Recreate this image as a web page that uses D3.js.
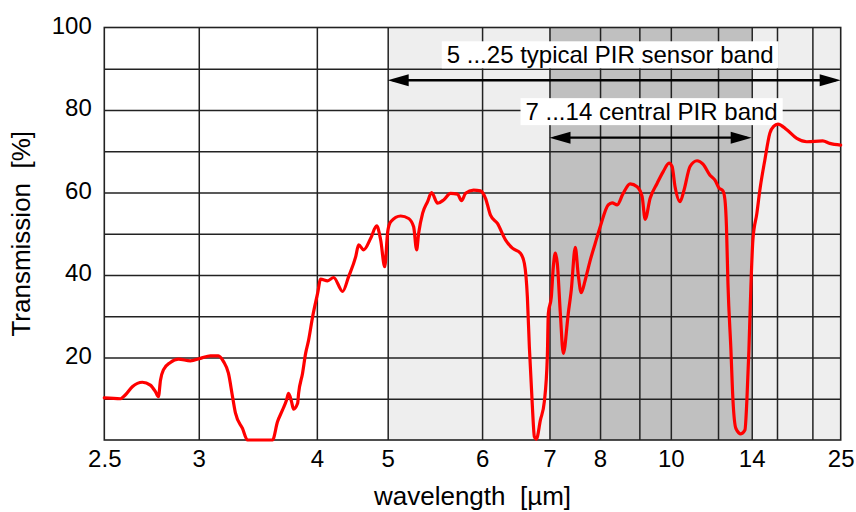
<!DOCTYPE html>
<html>
<head>
<meta charset="utf-8">
<script src="https://cdn.jsdelivr.net/npm/d3@7"></script>
<style>
  html, body { margin: 0; padding: 0; background: #fff; }
  svg { display: block; font-family: "Liberation Sans", Arial, Helvetica, sans-serif; }
</style>
</head>
<body>
<svg id="chart" width="856" height="512"></svg>
<script>
// ---------- data ----------
const wavelength = [
  2.500, 2.573, 2.596, 2.630, 2.680, 2.721, 2.748, 2.764, 2.775, 2.791,
  2.830, 2.876, 2.948, 3.011, 3.076, 3.130, 3.166, 3.201, 3.231, 3.253,
  3.306, 3.345, 3.555, 3.600, 3.647, 3.685, 3.704, 3.733, 3.753, 3.794,
  3.804, 3.845, 3.877, 3.909, 3.953, 4.009, 4.043, 4.125, 4.199, 4.314,
  4.394, 4.492, 4.535, 4.609, 4.717, 4.813, 4.879, 4.948, 5.000, 5.027,
  5.117, 5.192, 5.240, 5.269, 5.289, 5.329, 5.379, 5.420, 5.483, 5.548,
  5.624, 5.703, 5.750, 5.797, 5.893, 5.980, 6.044, 6.109, 6.202, 6.313,
  6.412, 6.531, 6.591, 6.637, 6.668, 6.716, 6.748, 6.780, 6.846, 6.912,
  6.963, 6.980, 7.032, 7.067, 7.103, 7.138, 7.193, 7.248, 7.342, 7.399,
  7.477, 7.536, 7.597, 7.679, 7.785, 7.893, 8.004, 8.189, 8.284, 8.408,
  8.559, 8.744, 8.937, 9.080, 9.168, 9.319, 9.537, 9.734, 9.938, 10.044,
  10.152, 10.337, 10.490, 10.727, 11.019, 11.282, 11.605, 11.847, 12.048, 12.257,
  12.364, 12.446, 12.527, 12.695, 12.811, 12.985, 13.291, 13.545, 13.674, 13.808,
  13.943, 14.083, 14.368, 14.588, 14.973, 15.380, 15.721, 16.077, 16.941, 18.015,
  19.238, 21.580, 22.789, 25.000
];
const transmission = [
  10.2, 10.0, 10.9, 12.9, 14.0, 13.3, 11.7, 10.5, 14.5, 17.0,
  18.8, 19.6, 19.2, 19.8, 20.4, 20.4, 19.0, 16.2, 10.5, 6.5,
  2.8, 0.0, 0.0, 4.4, 7.3, 9.7, 11.3, 9.3, 7.5, 8.9,
  11.3, 16.2, 21.0, 24.2, 29.9, 35.6, 39.0, 38.6, 39.4, 36.0,
  39.6, 44.4, 47.3, 46.1, 48.9, 51.9, 48.5, 42.0, 50.5, 52.9,
  54.3, 53.7, 51.7, 46.1, 50.1, 55.0, 57.8, 60.0, 57.4, 58.2,
  59.8, 59.6, 58.0, 59.8, 60.6, 60.4, 58.6, 54.5, 52.5, 48.5,
  46.5, 45.3, 42.8, 34.7, 22.6, 8.1, 0.8, 0.2, 4.8, 9.3,
  20.2, 30.7, 34.7, 42.0, 45.3, 42.8, 30.7, 21.0, 30.8, 36.4,
  46.7, 40.0, 35.7, 38.8, 43.6, 47.7, 51.7, 57.0, 57.5, 57.0,
  59.8, 62.1, 61.4, 59.0, 53.5, 58.6, 62.2, 65.0, 67.1, 66.3,
  61.4, 57.8, 60.6, 66.3, 67.7, 66.9, 64.2, 63.0, 61.1, 60.4,
  58.2, 51.7, 38.0, 21.8, 9.7, 2.8, 1.5, 2.4, 9.7, 21.8,
  37.2, 48.5, 55.0, 60.6, 67.9, 74.4, 76.1, 76.6, 75.2, 73.1,
  72.3, 72.5, 71.9, 71.5
];
const xTickValues = [2.5, 3, 4, 5, 6, 7, 8, 10, 14, 25];
const xGridValues = [3, 4, 5, 6, 7, 8, 9, 10, 12, 14, 16, 20];
const yTickValues = [20, 40, 60, 80, 100];
const yGridValues = [10, 20, 30, 40, 50, 60, 70, 80, 90];
const bandStart = [5, 7];
const bandEnd = [25, 14];
const bandFill = ["#eeeeee", "#c0c0c0"];
const bandLabels = ["5 ...25 typical PIR sensor band", "7 ...14 central PIR band"];
const bandArrowLevel = [87.2, 73.3];   // transmission level of each arrow
const bandLabelShift = [-4, 1];

// ---------- layout ----------
const L = 104.3, R = 840.7, T = 27.5, B = 440;
const svg = d3.select("#chart");

// x: linear in wavenumber (1/λ), with a scale change at 5 µm (2000 cm⁻¹)
const x = d3.scalePow().exponent(-1).domain([2.5, 5, 25]).range([L, 387.7, R]);
const y = d3.scaleLinear().domain([0, 100]).range([B, T]);

// bands
svg.append("g").selectAll("rect").data(bandStart).join("rect")
  .attr("x", (d, i) => x(bandStart[i]))
  .attr("y", T)
  .attr("width", (d, i) => x(bandEnd[i]) - x(bandStart[i]))
  .attr("height", B - T)
  .attr("fill", (d, i) => bandFill[i]);

// grid
const gridColor = "#222";
const gx = svg.append("g").attr("transform", `translate(0,${B})`)
  .call(d3.axisBottom(x).tickValues(xGridValues).tickSize(-(B - T)).tickFormat(""));
gx.select(".domain").remove();
gx.selectAll("line").attr("stroke", gridColor).attr("stroke-width", 1.5);

const gy = svg.append("g").attr("transform", `translate(${L},0)`)
  .call(d3.axisLeft(y).tickValues(yGridValues).tickSize(-(R - L)).tickFormat(""));
gy.select(".domain").remove();
gy.selectAll("line").attr("stroke", gridColor).attr("stroke-width", 1.4);

// frame
svg.append("rect").attr("x", L).attr("y", T).attr("width", R - L).attr("height", B - T)
  .attr("fill", "none").attr("stroke", gridColor).attr("stroke-width", 1.6);

// axes labels
const ax = svg.append("g").attr("transform", `translate(0,${B})`)
  .call(d3.axisBottom(x).tickValues(xTickValues).tickSize(0).tickPadding(10).tickFormat(d => d));
ax.select(".domain").remove();
ax.selectAll("text").attr("font-size", 24).attr("fill", "#000")
  .attr("font-family", "'Liberation Sans', Arial, sans-serif");

const ay = svg.append("g").attr("transform", `translate(${L},0)`)
  .call(d3.axisLeft(y).tickValues(yTickValues).tickSize(0).tickPadding(12.5));
ay.select(".domain").remove();
ay.selectAll("text").attr("font-size", 24).attr("fill", "#000").attr("dy", "0.24em")
  .attr("font-family", "'Liberation Sans', Arial, sans-serif");

// axis titles
svg.append("text").attr("x", (L + R) / 2).attr("y", 505).attr("text-anchor", "middle")
  .attr("font-size", 26).attr("fill", "#000").text("wavelength\u00a0\u00a0[µm]");
svg.append("text").attr("transform", `translate(30,${(T + B) / 2}) rotate(-90)`)
  .attr("text-anchor", "middle").attr("font-size", 26).attr("fill", "#000")
  .text("Transmission\u00a0\u00a0[%]");

// arrows + labels
const headLen = 21, headHalf = 6;
bandStart.forEach((s, i) => {
  const x0 = x(s), x1 = x(bandEnd[i]), ya = y(bandArrowLevel[i]);
  const g = svg.append("g");
  g.append("line").attr("x1", x0 + 5).attr("x2", x1 - 5).attr("y1", ya).attr("y2", ya)
    .attr("stroke", "#000").attr("stroke-width", 2.4);
  g.append("path").attr("d", `M${x0},${ya} L${x0 + headLen},${ya - headHalf} L${x0 + headLen},${ya + headHalf} Z`)
    .attr("fill", "#000");
  g.append("path").attr("d", `M${x1},${ya} L${x1 - headLen},${ya - headHalf} L${x1 - headLen},${ya + headHalf} Z`)
    .attr("fill", "#000");
  const tx = (x0 + x1) / 2 + bandLabelShift[i];
  const ty = ya - 16.5 - (i === 0 ? 0.5 : 1);
  const box = g.append("rect").attr("fill", "#fff");
  const t = g.append("text").attr("x", tx).attr("y", ty).attr("text-anchor", "middle")
    .attr("font-size", 24).attr("fill", "#000").text(bandLabels[i]);
  const bb = t.node().getBBox();
  box.attr("x", bb.x - 5).attr("y", bb.y).attr("width", bb.width + 10).attr("height", bb.height);
});

// curve
const pts = wavelength.map((w, i) => [w, transmission[i]]);
svg.append("path").datum(pts)
  .attr("fill", "none").attr("stroke", "#ff0000").attr("stroke-width", 3.2)
  .attr("stroke-linejoin", "round").attr("stroke-linecap", "round")
  .attr("d", d3.line().x(d => x(d[0])).y(d => y(d[1])).curve(d3.curveMonotoneX));
</script>
</body>
</html>
